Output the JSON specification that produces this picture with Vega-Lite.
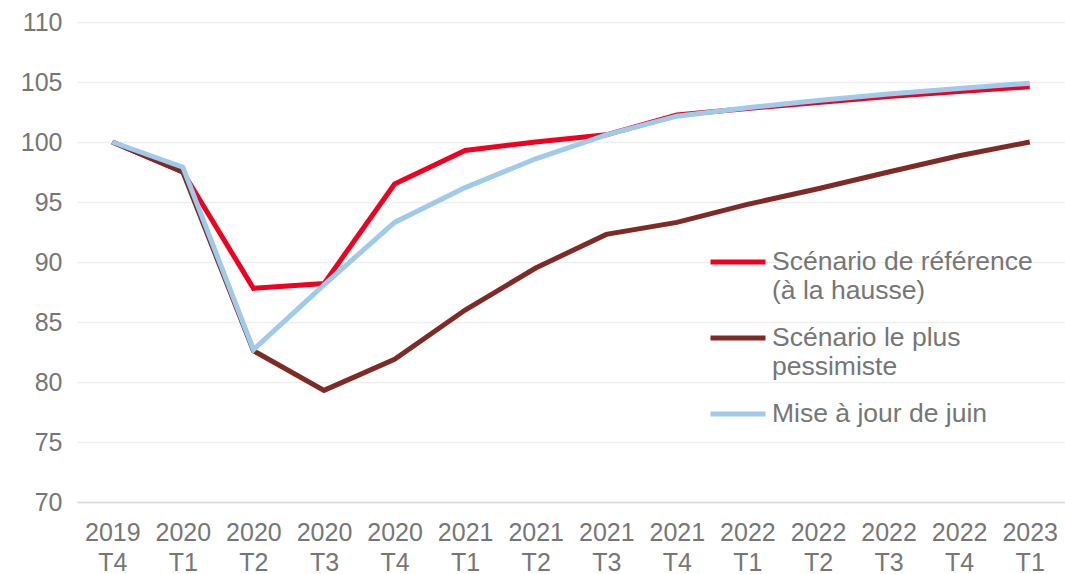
{
  "$schema": "https://vega.github.io/schema/vega-lite/v6.json",
  "width": 988,
  "height": 480,
  "autosize": {"type": "none"},
  "padding": {"left": 77, "top": 22, "right": 0, "bottom": 72},
  "config": {"view": {"stroke": null}, "font": "Liberation Sans"},
  "data": {
    "values": [
      {"periode": "2019 T4", "scenario": "Scénario de référence (à la hausse)", "valeur": 100},
      {"periode": "2020 T1", "scenario": "Scénario de référence (à la hausse)", "valeur": 97.5},
      {"periode": "2020 T2", "scenario": "Scénario de référence (à la hausse)", "valeur": 87.8},
      {"periode": "2020 T3", "scenario": "Scénario de référence (à la hausse)", "valeur": 88.2},
      {"periode": "2020 T4", "scenario": "Scénario de référence (à la hausse)", "valeur": 96.5},
      {"periode": "2021 T1", "scenario": "Scénario de référence (à la hausse)", "valeur": 99.3},
      {"periode": "2021 T2", "scenario": "Scénario de référence (à la hausse)", "valeur": 100.0},
      {"periode": "2021 T3", "scenario": "Scénario de référence (à la hausse)", "valeur": 100.6},
      {"periode": "2021 T4", "scenario": "Scénario de référence (à la hausse)", "valeur": 102.25},
      {"periode": "2022 T1", "scenario": "Scénario de référence (à la hausse)", "valeur": 102.8},
      {"periode": "2022 T2", "scenario": "Scénario de référence (à la hausse)", "valeur": 103.3},
      {"periode": "2022 T3", "scenario": "Scénario de référence (à la hausse)", "valeur": 103.8},
      {"periode": "2022 T4", "scenario": "Scénario de référence (à la hausse)", "valeur": 104.2},
      {"periode": "2023 T1", "scenario": "Scénario de référence (à la hausse)", "valeur": 104.6},
      {"periode": "2019 T4", "scenario": "Scénario le plus pessimiste", "valeur": 100},
      {"periode": "2020 T1", "scenario": "Scénario le plus pessimiste", "valeur": 97.5},
      {"periode": "2020 T2", "scenario": "Scénario le plus pessimiste", "valeur": 82.6},
      {"periode": "2020 T3", "scenario": "Scénario le plus pessimiste", "valeur": 79.3},
      {"periode": "2020 T4", "scenario": "Scénario le plus pessimiste", "valeur": 81.9},
      {"periode": "2021 T1", "scenario": "Scénario le plus pessimiste", "valeur": 86},
      {"periode": "2021 T2", "scenario": "Scénario le plus pessimiste", "valeur": 89.5},
      {"periode": "2021 T3", "scenario": "Scénario le plus pessimiste", "valeur": 92.3},
      {"periode": "2021 T4", "scenario": "Scénario le plus pessimiste", "valeur": 93.3},
      {"periode": "2022 T1", "scenario": "Scénario le plus pessimiste", "valeur": 94.8},
      {"periode": "2022 T2", "scenario": "Scénario le plus pessimiste", "valeur": 96.1},
      {"periode": "2022 T3", "scenario": "Scénario le plus pessimiste", "valeur": 97.5},
      {"periode": "2022 T4", "scenario": "Scénario le plus pessimiste", "valeur": 98.85},
      {"periode": "2023 T1", "scenario": "Scénario le plus pessimiste", "valeur": 100},
      {"periode": "2019 T4", "scenario": "Mise à jour de juin", "valeur": 100},
      {"periode": "2020 T1", "scenario": "Mise à jour de juin", "valeur": 97.9},
      {"periode": "2020 T2", "scenario": "Mise à jour de juin", "valeur": 82.7},
      {"periode": "2020 T3", "scenario": "Mise à jour de juin", "valeur": 88.1},
      {"periode": "2020 T4", "scenario": "Mise à jour de juin", "valeur": 93.3},
      {"periode": "2021 T1", "scenario": "Mise à jour de juin", "valeur": 96.2},
      {"periode": "2021 T2", "scenario": "Mise à jour de juin", "valeur": 98.6},
      {"periode": "2021 T3", "scenario": "Mise à jour de juin", "valeur": 100.6},
      {"periode": "2021 T4", "scenario": "Mise à jour de juin", "valeur": 102.15},
      {"periode": "2022 T1", "scenario": "Mise à jour de juin", "valeur": 102.85},
      {"periode": "2022 T2", "scenario": "Mise à jour de juin", "valeur": 103.45},
      {"periode": "2022 T3", "scenario": "Mise à jour de juin", "valeur": 104.0},
      {"periode": "2022 T4", "scenario": "Mise à jour de juin", "valeur": 104.45},
      {"periode": "2023 T1", "scenario": "Mise à jour de juin", "valeur": 104.9}
    ]
  },
  "mark": {"type": "line", "strokeWidth": 5},
  "encoding": {
    "x": {
      "field": "periode",
      "type": "ordinal",
      "sort": null,
      "scale": {"type": "point", "padding": 0.5},
      "axis": {
        "title": null,
        "labelExpr": "split(datum.label, ' ')",
        "labelAngle": 0,
        "labelFontSize": 25,
        "labelColor": "#767676",
        "labelLineHeight": 30,
        "labelPadding": 18,
        "labelBaseline": "top",
        "ticks": false,
        "domainColor": "#D9D9D9",
        "domainWidth": 1.5
      }
    },
    "y": {
      "field": "valeur",
      "type": "quantitative",
      "scale": {"domain": [70, 110], "zero": false},
      "axis": {
        "title": null,
        "values": [70, 75, 80, 85, 90, 95, 100, 105, 110],
        "grid": true,
        "gridColor": "#EEEEEE",
        "gridWidth": 1.5,
        "domain": false,
        "ticks": false,
        "labelFontSize": 25,
        "labelColor": "#767676",
        "labelPadding": 15
      }
    },
    "color": {
      "field": "scenario",
      "type": "nominal",
      "sort": ["Scénario de référence (à la hausse)", "Scénario le plus pessimiste", "Mise à jour de juin"],
      "scale": {
        "domain": ["Scénario de référence (à la hausse)", "Scénario le plus pessimiste", "Mise à jour de juin"],
        "range": ["#F0001E", "#7F2A25", "#9FCAE9"]
      },
      "legend": {
        "title": null,
        "orient": "none",
        "legendX": 631,
        "legendY": 210,
        "padding": 0,
        "symbolType": "stroke",
        "symbolSize": 3025,
        "symbolStrokeWidth": 5,
        "labelFontSize": 26.5,
        "labelColor": "#767676",
        "labelLimit": 400,
        "labelLineHeight": 30,
        "labelOffset": 4,
        "rowPadding": 4,
        "labelExpr": "datum.label == 'Scénario de référence (à la hausse)' ? ['Scénario de référence', '(à la hausse)'] : datum.label == 'Scénario le plus pessimiste' ? ['Scénario le plus', 'pessimiste'] : datum.label"
      }
    }
  }
}
